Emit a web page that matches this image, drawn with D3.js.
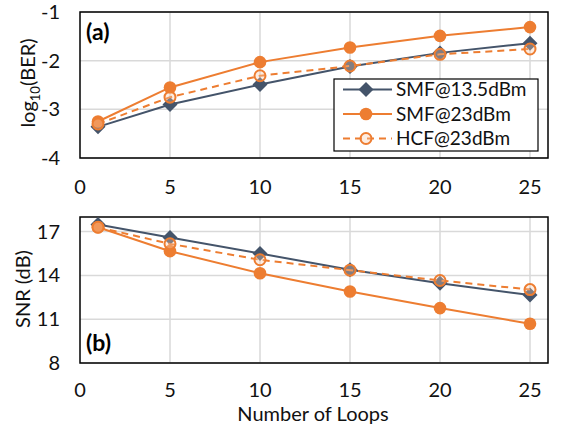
<!DOCTYPE html>
<html><head><meta charset="utf-8">
<script src="https://cdn.jsdelivr.net/npm/d3@7"></script>
<style>body{margin:0;background:#fff}svg{display:block;font-family:Lato,"Open Sans",sans-serif}</style>
</head><body><svg id="c" width="563" height="435"></svg>
<script>
const loops = [1, 5, 10, 15, 20, 25];
const seriesNames = ["SMF@13.5dBm", "SMF@23dBm", "HCF@23dBm"];
const berSMF135 = [-3.36, -2.90, -2.49, -2.12, -1.84, -1.64];
const berSMF23  = [-3.25, -2.55, -2.03, -1.73, -1.49, -1.31];
const berHCF23  = [-3.30, -2.75, -2.31, -2.11, -1.87, -1.76];
const snrSMF135 = [17.48, 16.6, 15.5, 14.38, 13.47, 12.65];
const snrSMF23  = [17.3, 15.66, 14.15, 12.9, 11.76, 10.69];
const snrHCF23  = [17.3, 16.16, 15.07, 14.36, 13.65, 13.03];
const xTicks = [0, 5, 10, 15, 20, 25];
const berTicks = [-1, -2, -3, -4];
const snrTicks = [8, 11, 14, 17];

const svg = d3.select("#c");
const X0 = 80, X1 = 548;
const x = d3.scaleLinear().domain([0, 26]).range([X0, X1]);
const yA = d3.scaleLinear().domain([-4, -1]).range([158, 12]);
const yB = d3.scaleLinear().domain([8, 18]).range([363, 217]);

const styles = [
  {color: "#44546a", dash: null, marker: "diamond"},
  {color: "#ed7d31", dash: null, marker: "circle"},
  {color: "#ed7d31", dash: "7,5", marker: "open"}
];

function drawMarker(g, type, cx, cy, color) {
  if (type === "diamond") {
    const s = 7.5;
    g.append("path").attr("d", `M${cx},${cy-s}L${cx+s},${cy}L${cx},${cy+s}L${cx-s},${cy}Z`).attr("fill", color);
  } else if (type === "circle") {
    g.append("circle").attr("cx", cx).attr("cy", cy).attr("r", 6.3).attr("fill", color);
  } else {
    g.append("circle").attr("cx", cx).attr("cy", cy).attr("r", 5.5)
      .attr("fill", "#f8cbad").attr("fill-opacity", 0.35).attr("stroke", color).attr("stroke-width", 2);
  }
}

function panel(y, ticks, data, labelTxt, labelY, xLabelY) {
  const yr = y.range();
  const g = svg.append("g");
  g.selectAll(".gx").data(xTicks.filter(t => t > 0)).join("line")
    .attr("x1", d => x(d)).attr("x2", d => x(d)).attr("y1", yr[1]).attr("y2", yr[0])
    .attr("stroke", "#d9d9d9").attr("stroke-width", 1.5);
  g.selectAll(".gy").data(ticks).join("line")
    .attr("x1", X0).attr("x2", X1).attr("y1", d => y(d)).attr("y2", d => y(d))
    .attr("stroke", "#d9d9d9").attr("stroke-width", 1.5);
  g.append("rect").attr("x", X0).attr("y", yr[1]).attr("width", X1 - X0).attr("height", yr[0] - yr[1])
    .attr("fill", "none").attr("stroke", "#000").attr("stroke-width", 1.5);
  g.selectAll(".ty").data(ticks).join("text")
    .attr("x", 60).attr("y", d => y(d)).attr("dy", "0.35em").attr("text-anchor", "end")
    .attr("font-size", 20).attr("fill", "#111").text(d => d);
  g.selectAll(".tx").data(xTicks).join("text")
    .attr("x", d => x(d)).attr("y", xLabelY).attr("text-anchor", "middle")
    .attr("font-size", 20).attr("fill", "#111").text(d => d);
  data.forEach((vals, i) => {
    const st = styles[i];
    const line = d3.line().x((d, j) => x(loops[j])).y(d => y(d));
    g.append("path").datum(vals).attr("d", line).attr("fill", "none")
      .attr("stroke", st.color).attr("stroke-width", 2).attr("stroke-dasharray", st.dash);
    vals.forEach((v, j) => drawMarker(g, st.marker, x(loops[j]), y(v), st.color));
  });
  g.append("text").attr("x", 86).attr("y", labelY).attr("font-size", 23).attr("font-weight", "bold")
    .attr("fill", "#000").text(labelTxt);
  return g;
}

panel(yA, berTicks, [berSMF135, berSMF23, berHCF23], "(a)", 40, 194);
panel(yB, snrTicks, [snrSMF135, snrSMF23, snrHCF23], "(b)", 351, 397);

const ta = svg.append("text").attr("transform", "translate(35,83) rotate(-90)")
  .attr("text-anchor", "middle").attr("font-size", 20).attr("fill", "#111");
ta.append("tspan").text("log");
ta.append("tspan").attr("font-size", 13).attr("dy", 5).text("10");
ta.append("tspan").attr("dy", -5).text("(BER)");
svg.append("text").attr("transform", "translate(30,289) rotate(-90)")
  .attr("text-anchor", "middle").attr("font-size", 20).attr("fill", "#111").text("SNR (dB)");
svg.append("text").attr("x", 313).attr("y", 421).attr("text-anchor", "middle")
  .attr("font-size", 20).attr("fill", "#111").text("Number of Loops");

const lg = svg.append("g");
lg.append("rect").attr("x", 334).attr("y", 79).attr("width", 204).attr("height", 72)
  .attr("fill", "#fff").attr("stroke", "#000").attr("stroke-width", 1.2);
seriesNames.forEach((name, i) => {
  const cy = 89.5 + i * 24.5;
  const st = styles[i];
  lg.append("line").attr("x1", 343).attr("x2", 392).attr("y1", cy).attr("y2", cy)
    .attr("stroke", st.color).attr("stroke-width", 2).attr("stroke-dasharray", st.dash);
  drawMarker(lg, st.marker, 366, cy, st.color);
  lg.append("text").attr("x", 396).attr("y", cy).attr("dy", "0.35em").attr("font-size", 19)
    .attr("fill", "#111").text(name);
});
</script></body></html>
